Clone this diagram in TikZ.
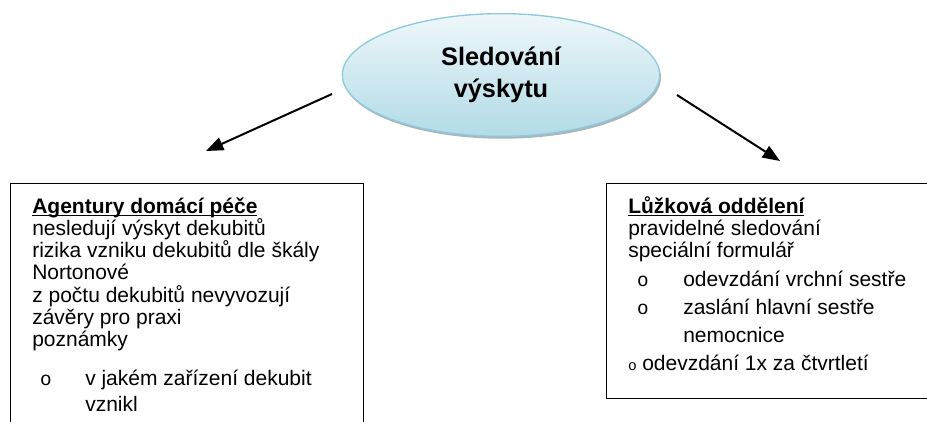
\documentclass[tikz,border=0pt]{standalone}
\usepackage{fontspec}
\setmainfont{Liberation Sans}
\newfontfamily\bulletfont{Liberation Mono}
\usetikzlibrary{arrows.meta,shapes.geometric,shadows}

\definecolor{ovalTop}{HTML}{EEF7FA}
\definecolor{ovalBottom}{HTML}{B2DBE7}
\definecolor{ovalLine}{HTML}{8FCADB}
\definecolor{ovalShadow}{HTML}{8E9EA4}

\newsavebox{\headbox}
\newcommand{\headline}[1]{%
  \sbox{\headbox}{\bfseries #1}%
  \rlap{\rule[-2.4pt]{\wd\headbox}{1.2pt}}\usebox{\headbox}}

\tikzset{
  textline/.style={anchor=base west, inner sep=0pt,
    font=\fontsize{15.75}{18}\selectfont},
  bulletmark/.style={anchor=base, inner sep=0pt,
    font=\bulletfont\fontsize{14.5}{16}\selectfont},
  pointer/.style={-{Triangle[length=13pt,width=10pt]}, line width=1.5pt},
  framebox/.style={draw, line width=1.1pt, anchor=north west, inner sep=0pt}
}

\begin{document}
\begin{tikzpicture}[x=0.75pt,y=-0.75pt]

\useasboundingbox (0,0) rectangle (927,421);
\clip (0,0) rectangle (927,421);

% Oval
\node[ellipse, minimum width=238pt, minimum height=92pt,
  draw=ovalLine, line width=1pt,
  top color=ovalTop, bottom color=ovalBottom,
  drop shadow={shadow xshift=1pt, shadow yshift=-1.8pt,
    fill=ovalShadow, opacity=0.75},
  align=center, font=\bfseries\fontsize{19}{24}\selectfont]
(sled) at (501,75)
{Sledování\\výskytu};

% Sipky
\coordinate (lfrom) at (332,94);
\coordinate (lto) at (206,151);
\draw[pointer] (lfrom) -- (lto);

\coordinate (rfrom) at (677,95);
\coordinate (rto) at (780,161);
\draw[pointer] (rfrom) -- (rto);

% Agentury
\node[framebox, minimum width=264.75pt, minimum height=240pt]
(agbox) at (10,183) {};

\node[textline] (ag1) at (32,213)
{\headline{Agentury domácí péče}};
\node[textline] (ag2) at (32,235.3)
{nesledují výskyt dekubitů};
\node[textline] (ag3) at (32,257.6)
{rizika vzniku dekubitů dle škály};
\node[textline] (ag4) at (32,279.9)
{Nortonové};
\node[textline] (ag5) at (32,302.2)
{z počtu dekubitů nevyvozují};
\node[textline] (ag6) at (32,324.5)
{závěry pro praxi};
\node[textline] (ag7) at (32,346.8)
{poznámky};
\node[bulletmark] (agb1) at (46,385) {o};
\node[textline] (ag8) at (85,385)
{v jakém zařízení dekubit};
\node[textline] (ag9) at (85,411)
{vznikl};

% Luzkova oddeleni
\node[framebox, minimum width=270pt, minimum height=161.25pt]
(lobox) at (606,183) {};

\node[textline] (lo1) at (628,213)
{\headline{Lůžková oddělení}};
\node[textline] (lo2) at (628,235)
{pravidelné sledování};
\node[textline] (lo3) at (628,257)
{speciální formulář};
\node[bulletmark] (lob1) at (643,286) {o};
\node[textline] (lo4) at (683,286)
{odevzdání vrchní sestře};
\node[bulletmark] (lob2) at (643,314) {o};
\node[textline] (lo5) at (683,314)
{zaslání hlavní sestře};
\node[textline] (lo6) at (683,342)
{nemocnice};
\node[textline] (lo7) at (628,370)
{{\fontsize{11}{12}\selectfont o} odevzdání 1x za čtvrtletí};

\end{tikzpicture}
\end{document}
